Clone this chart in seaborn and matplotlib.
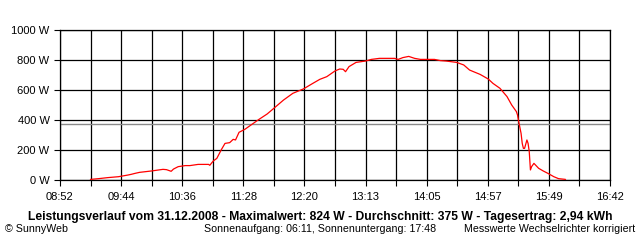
import matplotlib
matplotlib.use("Agg")
import matplotlib.pyplot as plt
import numpy as np
import pandas as pd
import seaborn as sns

# ---- data ----
times = ["09:18", "09:25", "09:33", "09:42", "09:50", "09:53", "09:56", "10:00", "10:10",
         "10:20", "10:23", "10:27", "10:29", "10:33", "10:39", "10:43", "10:50", "10:59",
         "11:00", "11:03", "11:06", "11:10", "11:13", "11:17", "11:20", "11:22", "11:25",
         "11:30", "11:34", "11:42", "11:49", "11:54", "12:03", "12:11", "12:20", "12:28",
         "12:34", "12:40", "12:47", "12:51", "12:54", "12:56", "12:59", "13:05", "13:13",
         "13:18", "13:25", "13:38", "13:41", "13:45", "13:50", "13:55", "14:00", "14:12",
         "14:17", "14:22", "14:31", "14:37", "14:42", "14:51", "14:58", "15:02", "15:08",
         "15:14", "15:18", "15:22", "15:23", "15:24", "15:26", "15:27", "15:28", "15:29",
         "15:31", "15:32", "15:33", "15:34", "15:35", "15:37", "15:41", "15:45", "15:49",
         "15:54", "15:58", "16:04"]
watts = [4, 9, 16, 22, 33, 38, 44, 51, 60,
         71, 69, 58, 73, 89, 96, 96, 104, 104,
         98, 127, 144, 204, 244, 249, 271, 267, 318,
         338, 360, 404, 440, 473, 533, 578, 607, 644,
         671, 689, 727, 740, 738, 722, 756, 784, 793,
         804, 811, 811, 804, 816, 824, 811, 804, 804,
         796, 793, 784, 767, 733, 704, 673, 644, 611,
         556, 500, 456, 433, 389, 311, 244, 211, 211,
         267, 244, 189, 67, 89, 111, 78, 60, 44,
         22, 9, 4]
x_tick_labels = ["08:52", "09:44", "10:36", "11:28", "12:20", "13:13", "14:05", "14:57", "15:49", "16:42"]
y_tick_values = [0, 200, 400, 600, 800, 1000]
average_w = 375

title = "Leistungsverlauf vom 31.12.2008 - Maximalwert: 824 W - Durchschnitt: 375 W - Tagesertrag: 2,94 kWh"
footer_left = "\u00a9 SunnyWeb"
footer_mid = "Sonnenaufgang: 06:11, Sonnenuntergang: 17:48"
footer_right = "Messwerte Wechselrichter korrigiert"


def to_min(s):
    h, m = s.split(":")
    return int(h) * 60 + int(m)


df = pd.DataFrame({"t": [to_min(s) for s in times], "w": watts})

sns.set_theme(style="white")
plt.rcParams["font.family"] = ["Liberation Sans", "DejaVu Sans"]

fig = plt.figure(figsize=(6.4, 2.4), dpi=100)
fig.patch.set_facecolor("white")
ax = fig.add_axes([60 / 640, 60 / 240, 550 / 640, 150 / 240])
ax.set_facecolor("white")

t0 = to_min(x_tick_labels[0])
t1 = to_min(x_tick_labels[-1])

ax.set_xlim(t0, t1)
ax.set_ylim(0, 1000)
ax.set_xticks(np.linspace(t0, t1, len(x_tick_labels)))
ax.set_xticklabels(x_tick_labels)
ax.set_xticks(np.linspace(t0, t1, 2 * len(x_tick_labels) - 1), minor=True)
ax.set_yticks(y_tick_values)
ax.set_yticklabels([f"{v} W" for v in y_tick_values])

ax.grid(which="both", axis="x", color="black", lw=0.9)
ax.grid(which="major", axis="y", color="black", lw=0.9)
ax.set_axisbelow(True)
ax.axhline(average_w, color="#8a8a8a", lw=1.0, zorder=1.5)

sns.lineplot(data=df, x="t", y="w", color="#ff0000", lw=0.9, ax=ax, zorder=3)
ax.set_xlabel("")
ax.set_ylabel("")

for sp in ax.spines.values():
    sp.set_color("black")
    sp.set_linewidth(0.9)

ax.tick_params(axis="both", which="both", direction="out", length=4, width=0.8,
               color="black", labelcolor="black", labelsize=8)
ax.tick_params(axis="x", which="both", bottom=True, pad=4.5)
ax.tick_params(axis="y", left=True, pad=3.5)

fig.text(320 / 640, 1 - 217 / 240, title, ha="center", va="center",
         fontsize=8.7, fontweight="bold", color="black")
fig.text(5 / 640, 1 - 229 / 240, footer_left, ha="left", va="center", fontsize=7.7, color="black")
fig.text(204 / 640, 1 - 229 / 240, footer_mid, ha="left", va="center", fontsize=7.7, color="black")
fig.text(635 / 640, 1 - 229 / 240, footer_right, ha="right", va="center", fontsize=7.7, color="black")

fig.savefig("out.png", dpi=100, facecolor="white")
